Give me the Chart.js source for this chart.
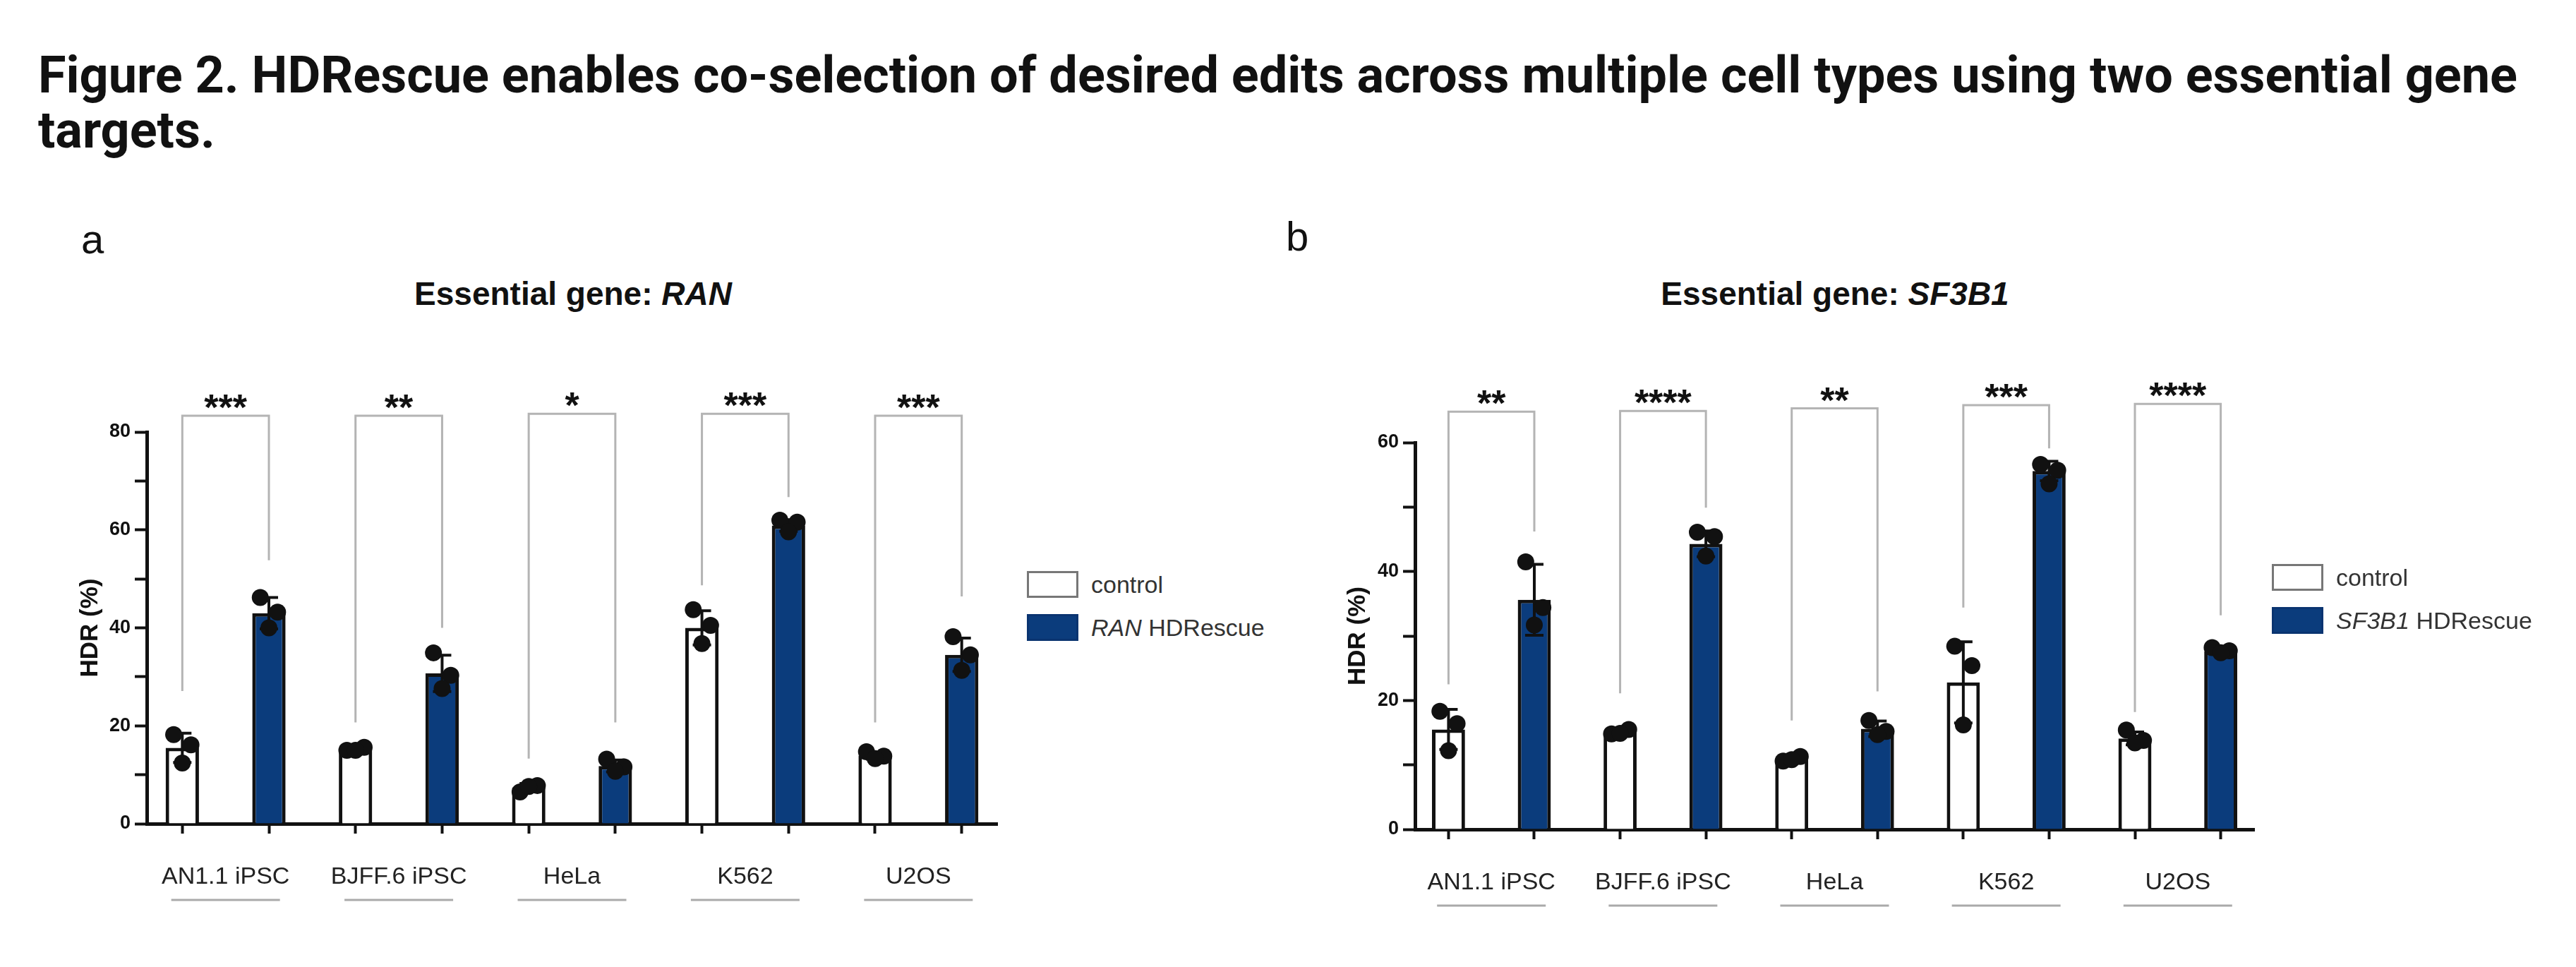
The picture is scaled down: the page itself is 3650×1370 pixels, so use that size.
<!DOCTYPE html>
<html lang="en">
<head>
<meta charset="UTF-8" />
<title>Figure 2. HDRescue co-selection</title>
<script src="https://cdn.jsdelivr.net/npm/chart.js@4.4.1/dist/chart.umd.min.js"></script>
<style>
    body { margin: 0; background: #fff; }
    #fig { position: relative; width: 3650px; height: 1370px; overflow: hidden; font-family: "Liberation Sans", Arial, sans-serif; }
    .fig-title { position: absolute; left: 54px; top: 68px; margin: 0; font-family: Roboto, sans-serif; font-weight: 700; font-size: 72px; line-height: 78px; color: #111; white-space: nowrap; }
    .panel-letter { position: absolute; font-size: 58px; line-height: 58px; color: #111; }
    .panel-title { position: absolute; width: 900px; text-align: center; font-size: 46px; line-height: 46px; font-weight: 700; color: #111; }
    canvas { position: absolute; }
    .legend { position: absolute; font-size: 34px; color: #333; }
    .legend .row { display: flex; align-items: center; height: 36px; margin-bottom: 25px; }
    .legend .sw { width: 67px; height: 32px; margin-right: 18px; border: 3px solid #777; background: #fff; }
    .legend .sw.fill { background: #0b3c7c; border-color: #0a3470; }
</style>
</head>
<body>
<div id="fig">
    <h1 class="fig-title">Figure 2. HDRescue enables co-selection of desired edits across multiple cell types using two essential gene<br>targets.</h1>

    <div class="panel-letter" style="left:115px; top:310px;">a</div>
    <div class="panel-title" style="left:362px; top:393px;">Essential gene: <i>RAN</i></div>
    <canvas id="chartRan" width="1355" height="830" style="left:95px; top:500px;"></canvas>
    <div class="legend" id="legendRan" style="left:1455px; top:810px;"></div>

    <div class="panel-letter" style="left:1822px; top:306px;">b</div>
    <div class="panel-title" style="left:2150px; top:393px;">Essential gene: <i>SF3B1</i></div>
    <canvas id="chartSf3b1" width="1330" height="838" style="left:1890px; top:500px;"></canvas>
    <div class="legend" id="legendSf3b1" style="left:3219px; top:800px;"></div>
</div>

<script>
// cell types on the x axis (each gets a control bar and an HDRescue bar)
const categories = ["AN1.1 iPSC", "BJFF.6 iPSC", "HeLa", "K562", "U2OS"];

// panel a - essential gene RAN
const ranTicks = [0, 10, 20, 30, 40, 50, 60, 70, 80];
const ranControl = [15.5, 15.2, 7.4, 40.0, 13.9];
const ranControlSd = [3.0, 0.4, 0.8, 3.5, 0.7];
const ranControlReps = [[18.2, 16.1, 12.4], [15.0, 15.6, 15.0], [6.5, 7.8, 7.6], [43.7, 40.5, 36.8], [14.7, 13.8, 13.3]];
const ranRescue = [43.0, 30.7, 11.8, 60.9, 34.5];
const ranRescueSd = [3.2, 3.7, 1.2, 1.2, 3.4];
const ranRescueReps = [[46.2, 43.2, 40.0], [34.9, 30.3, 27.6], [13.2, 11.6, 10.7], [62.0, 61.6, 59.6], [38.2, 34.5, 31.3]];
const ranSigTop = [83.3, 83.3, 83.7, 83.7, 83.3];
const ranSigLeft = [27.1, 20.7, 13.3, 48.7, 20.7];
const ranSigRight = [53.8, 40.0, 20.7, 66.7, 46.4];
const ranStars = ["***", "**", "*", "***", "***"];

// panel b - essential gene SF3B1
const sf3b1Ticks = [0, 10, 20, 30, 40, 50, 60];
const sf3b1Control = [15.5, 15.1, 10.9, 22.8, 14.1];
const sf3b1ControlSd = [3.1, 0.4, 0.4, 6.3, 1.0];
const sf3b1ControlReps = [[18.3, 16.4, 12.2], [14.8, 15.5, 14.9], [10.6, 11.3, 10.8], [28.4, 25.4, 16.2], [15.4, 13.8, 13.4]];
const sf3b1Rescue = [35.6, 44.3, 15.6, 55.6, 27.6];
const sf3b1RescueSd = [5.5, 2.0, 1.2, 1.5, 0.4];
const sf3b1RescueReps = [[41.5, 34.4, 31.7], [46.1, 45.4, 42.4], [16.9, 15.2, 14.7], [56.6, 55.7, 53.6], [28.2, 27.7, 27.4]];
const sf3b1SigTop = [64.8, 64.9, 65.3, 65.8, 66.0];
const sf3b1SigLeft = [22.5, 21.1, 16.9, 34.4, 18.2];
const sf3b1SigRight = [46.2, 49.9, 21.4, 59.1, 33.2];
const sf3b1Stars = ["**", "****", "**", "***", "****"];

const BLUE = "#0b3c7c";
const INK = "#111";
const JITTER = [-0.1, 0.1, 0];

Chart.defaults.font.family = "'Liberation Sans', Arial, sans-serif";
Chart.defaults.color = INK;

// bars sit at slot 2i (control) and 2i+1 (HDRescue)
function barData(values, side) {
    return values.map((v, i) => ({ x: 2 * i + side, y: v }));
}
function repData(reps, side) {
    return reps.flatMap((r, i) => r.map((v, k) => ({ x: 2 * i + side + JITTER[k], y: v })));
}

// error bars, significance brackets and label underlines
function decorPlugin(p) {
    return {
        id: "decor",
        afterDatasetDraw(chart, args) {
            if (args.meta.type !== "bar") return;
            const sd = args.index === 0 ? p.controlSd : p.rescueSd;
            const ys = chart.scales.y;
            const ctx = chart.ctx;
            ctx.save();
            ctx.strokeStyle = INK;
            ctx.lineWidth = 4;
            args.meta.data.forEach((bar, i) => {
                const m = chart.data.datasets[args.index].data[i].y;
                const top = ys.getPixelForValue(m + sd[i]);
                const bot = ys.getPixelForValue(m - sd[i]);
                ctx.beginPath();
                ctx.moveTo(bar.x, top); ctx.lineTo(bar.x, bot);
                ctx.moveTo(bar.x - 13, top); ctx.lineTo(bar.x + 13, top);
                ctx.moveTo(bar.x - 13, bot); ctx.lineTo(bar.x + 13, bot);
                ctx.stroke();
            });
            ctx.restore();
        },
        afterDraw(chart) {
            const xs = chart.scales.x, ys = chart.scales.y, g = chart.scales.xg;
            const ctx = chart.ctx;
            ctx.save();
            ctx.strokeStyle = "#b4b4b4";
            ctx.lineWidth = 3;
            ctx.fillStyle = INK;
            ctx.font = "bold 52px 'Liberation Sans', Arial, sans-serif";
            ctx.textAlign = "center";
            ctx.textBaseline = "alphabetic";
            p.sigTop.forEach((t, i) => {
                const xl = xs.getPixelForValue(2 * i);
                const xr = xs.getPixelForValue(2 * i + 1);
                const yt = ys.getPixelForValue(t);
                ctx.beginPath();
                ctx.moveTo(xl, ys.getPixelForValue(p.sigLeft[i]));
                ctx.lineTo(xl, yt);
                ctx.lineTo(xr, yt);
                ctx.lineTo(xr, ys.getPixelForValue(p.sigRight[i]));
                ctx.stroke();
                ctx.fillText(p.stars[i], (xl + xr) / 2, yt + 6);
            });
            // grey rule under each cell-type label
            ctx.strokeStyle = "#aaa";
            categories.forEach((c, i) => {
                const cx = g.getPixelForValue(2 * i + 0.5);
                ctx.beginPath();
                ctx.moveTo(cx - 77, g.top + 94);
                ctx.lineTo(cx + 77, g.top + 94);
                ctx.stroke();
            });
            ctx.restore();
        }
    };
}

function makeChart(id, p) {
    const xMin = -p.edge, xMax = 2 * categories.length - 1 + p.edge;
    const slotTicks = categories.flatMap((c, i) => [{ value: 2 * i }, { value: 2 * i + 1 }]);
    const labelTicks = categories.map((c, i) => ({ value: 2 * i + 0.5 }));
    return new Chart(document.getElementById(id), {
        type: "bar",
        data: {
            datasets: [
                { label: "control", data: barData(p.control, 0), backgroundColor: "#fff",
                  borderColor: INK, borderWidth: 5, order: 1 },
                { label: "HDRescue", data: barData(p.rescue, 1), backgroundColor: BLUE,
                  borderColor: INK, borderWidth: 5, order: 1 },
                { type: "scatter", data: repData(p.controlReps, 0), pointRadius: 12,
                  backgroundColor: INK, borderWidth: 0, order: 0 },
                { type: "scatter", data: repData(p.rescueReps, 1), pointRadius: 12,
                  backgroundColor: INK, borderWidth: 0, order: 0 }
            ]
        },
        options: {
            responsive: false,
            animation: false,
            devicePixelRatio: 1,
            datasets: { bar: { grouped: false, categoryPercentage: 1, barPercentage: 0.385 } },
            layout: { padding: { top: p.padTop, right: p.padRight, left: 0, bottom: 0 } },
            plugins: { legend: { display: false }, tooltip: { enabled: false } },
            scales: {
                x: {
                    type: "linear", position: "bottom", min: xMin, max: xMax, offset: false,
                    afterBuildTicks: (s) => { s.ticks = slotTicks; },
                    afterFit: (s) => { s.height = 14; },
                    ticks: { display: false },
                    grid: { display: true, offset: false, drawOnChartArea: false, drawTicks: true,
                            tickLength: 14, tickWidth: 4, tickColor: INK },
                    border: { display: true, color: INK, width: 5 }
                },
                xg: {
                    type: "linear", position: "bottom", min: xMin, max: xMax, offset: false,
                    afterBuildTicks: (s) => { s.ticks = labelTicks; },
                    afterFit: (s) => { s.height = 149; },
                    ticks: {
                        autoSkip: false, maxRotation: 0, padding: 41, color: "#222",
                        font: { size: 34 },
                        callback: (v) => categories[Math.round((v - 0.5) / 2)]
                    },
                    grid: { display: false, drawTicks: false },
                    border: { display: false }
                },
                y: {
                    type: "linear", min: p.yTicks[0], max: p.yTicks[p.yTicks.length - 1],
                    afterBuildTicks: (s) => { s.ticks = p.yTicks.map((v) => ({ value: v })); },
                    afterFit: (s) => { s.width = p.yWidth; },
                    ticks: {
                        padding: 6, font: { size: 27, weight: "bold" },
                        callback: (v) => (v % 20 === 0 ? v : "")
                    },
                    title: { display: true, text: "HDR (%)", font: { size: 35, weight: "bold" },
                             padding: { top: p.titlePad, bottom: 0 } },
                    grid: { display: true, drawOnChartArea: false, drawTicks: true,
                            tickLength: 17, tickWidth: 4, tickColor: INK },
                    border: { display: true, color: INK, width: 5 }
                }
            }
        },
        plugins: [decorPlugin(p)]
    });
}

function makeLegend(id, gene) {
    const el = document.getElementById(id);
    el.innerHTML =
        '<div class="row"><span class="sw"></span><span>control</span></div>' +
        '<div class="row"><span class="sw fill"></span><span><i>' + gene + '</i> HDRescue</span></div>';
}

makeChart("chartRan", {
    control: ranControl, controlSd: ranControlSd, controlReps: ranControlReps,
    rescue: ranRescue, rescueSd: ranRescueSd, rescueReps: ranRescueReps,
    sigTop: ranSigTop, sigLeft: ranSigLeft, sigRight: ranSigRight, stars: ranStars,
    yTicks: ranTicks, edge: 0.41, padTop: 112, padRight: 37, yWidth: 113, titlePad: 12
});
makeChart("chartSf3b1", {
    control: sf3b1Control, controlSd: sf3b1ControlSd, controlReps: sf3b1ControlReps,
    rescue: sf3b1Rescue, rescueSd: sf3b1RescueSd, rescueReps: sf3b1RescueReps,
    sigTop: sf3b1SigTop, sigLeft: sf3b1SigLeft, sigRight: sf3b1SigRight, stars: sf3b1Stars,
    yTicks: sf3b1Ticks, edge: 0.39, padTop: 127, padRight: 26, yWidth: 115, titlePad: 13
});
makeLegend("legendRan", "RAN");
makeLegend("legendSf3b1", "SF3B1");
</script>
</body>
</html>
